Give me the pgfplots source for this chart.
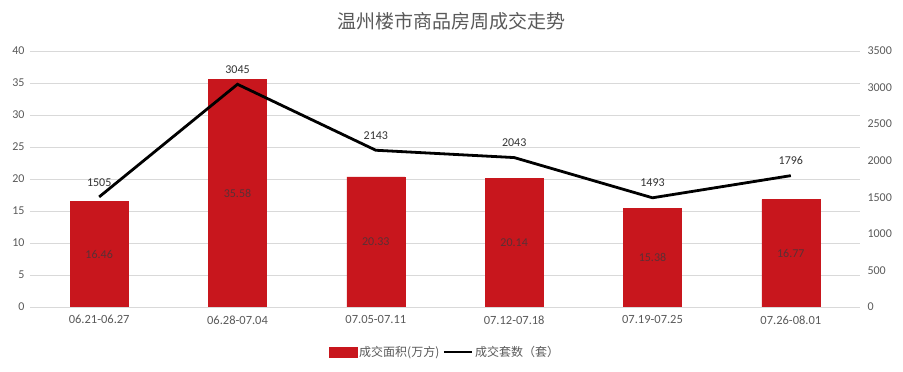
\documentclass[border=0pt]{standalone}
\usepackage{fontspec}
\setmainfont{Carlito}
\newfontfamily\cjk{Noto Sans CJK SC}
\usepackage{pgfplots}
\usepackage{pgfplotstable}
\pgfplotsset{compat=1.18}
\definecolor{barred}{HTML}{C8161D}
\definecolor{txtgrey}{HTML}{595959}
\definecolor{gridgrey}{HTML}{D9D9D9}
\definecolor{lblgrey}{HTML}{5A3035}
\pgfplotstableread{
x area sets
0 16.46 1505
1 35.58 3045
2 20.33 2143
3 20.14 2043
4 15.38 1493
5 16.77 1796
}\datatable
\begin{document}
\begin{tikzpicture}[x=1pt,y=1pt]
\useasboundingbox (0,0) rectangle (903,372);
\pgfplotsset{
  common/.style={
    scale only axis, width=830pt, height=256pt,
    at={(30pt,65pt)}, anchor=south west,
    xmin=-0.5, xmax=5.5,
    /pgf/number format/assume math mode=true,
    /pgf/number format/set thousands separator={},
    tick label style={font=\fontsize{12}{14}\selectfont, text=txtgrey},
  }
}
\begin{axis}[common,
  ymin=0, ymax=40, ytick={0,5,...,40},
  axis y line*=left, axis x line*=bottom,
  y axis line style={draw=none},
  x axis line style={draw=gridgrey, line width=0.8pt},
  ymajorgrids, grid style={gridgrey, line width=0.8pt},
  major y tick style={draw=none},
  xtick={0,...,5},
  xticklabels={06.21-06.27,06.28-07.04,07.05-07.11,07.12-07.18,07.19-07.25,07.26-08.01},
  major x tick style={draw=none},
  extra x ticks={-0.5,0.5,1.5,2.5,3.5,4.5,5.5},
  extra x tick labels={},
  extra x tick style={major tick length=5pt, tick align=outside, tick style={draw=gridgrey, line width=0.8pt}, grid=none},
  xticklabel style={font=\fontsize{12.5}{14}\selectfont, yshift=-5pt},
  yticklabel style={xshift=-2pt},
]
\addplot[ybar, bar width=0.42, fill=barred, draw=barred] table[x=x, y=area] {\datatable};
\addplot[only marks, mark=none, point meta=explicit symbolic,
  nodes near coords, nodes near coords align=center,
  every node near coord/.append style={anchor=center, font=\fontsize{12}{14}\selectfont, text=lblgrey}]
  table[x=x, y expr=\thisrow{area}/2, meta=area] {\datatable};
\end{axis}
\begin{axis}[common,
  ymin=0, ymax=3500, ytick={0,500,...,3500},
  axis y line*=right, axis x line=none,
  y axis line style={draw=none},
  major y tick style={draw=none},
  yticklabel style={xshift=4pt},
  legend style={at={(0.5,-0.176)}, anchor=center, draw=none, fill=none,
    legend columns=2, font=\cjk\fontsize{12}{14}\selectfont, text=txtgrey,
    /tikz/every even column/.append style={column sep=1pt}},
  legend cell align=left,
]
\addlegendimage{legend image code/.code={\fill[barred] (0pt,-5pt) rectangle (28pt,5pt);}}
\addlegendentry{成交面积(万方)}
\addplot[black, line width=2.8pt, mark=none,
  legend image code/.code={\draw[black, line width=2.8pt] (0pt,0pt) -- (28pt,0pt);},
  nodes near coords, point meta=explicit,
  every node near coord/.append style={anchor=south, yshift=6pt, font=\fontsize{12}{14}\selectfont, text=black!80}]
  table[x=x, y=sets, meta=sets] {\datatable};
\addlegendentry{成交套数（套）}
\end{axis}
\node[font=\cjk\fontsize{19}{22}\selectfont, text=txtgrey] at (451,351) {温州楼市商品房周成交走势};
\end{tikzpicture}
\end{document}
